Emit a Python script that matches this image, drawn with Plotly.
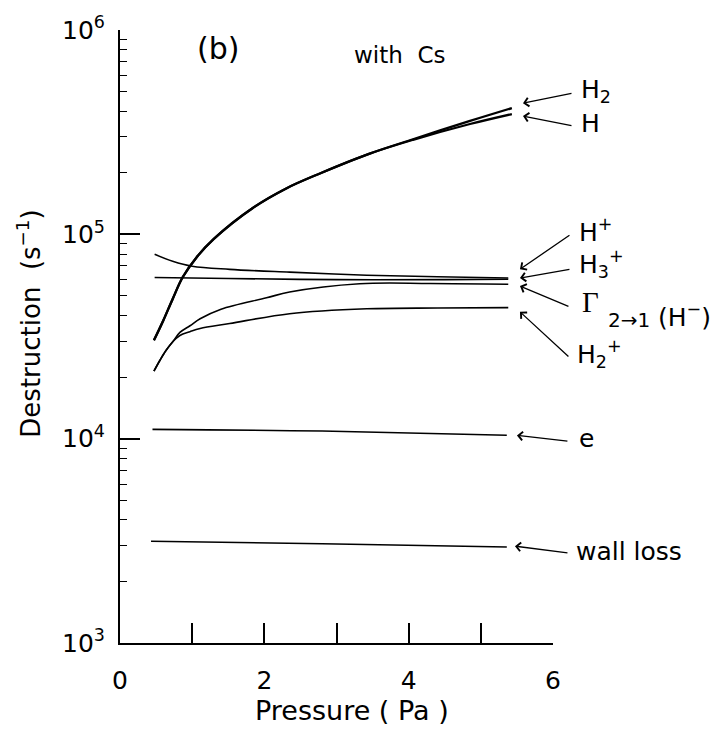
import plotly.graph_objects as go
import math

# ---------------- data ----------------
p_H2 = [0.47, 0.60, 0.73, 0.87, 1.06, 1.30, 1.84, 2.31, 2.77, 3.46, 4.06, 4.85, 5.43]
v_H2 = [30300, 37900, 48300, 61800, 77100, 95000, 134600, 168200, 198600, 248300, 292000, 359000, 415000]

p_H = [0.47, 0.60, 0.73, 0.87, 1.06, 1.30, 1.84, 2.31, 2.77, 3.46, 4.06, 4.85, 5.43]
v_H = [30300, 37900, 48300, 61800, 77100, 95000, 134600, 168200, 198600, 248300, 290000, 346700, 388000]

p_Hp = [0.48, 0.73, 1.00, 1.52, 2.35, 3.42, 4.40, 5.38]
v_Hp = [79800, 73800, 69800, 67400, 65300, 63100, 62000, 61100]

p_H3p = [0.48, 1.50, 3.00, 4.50, 5.38]
v_H3p = [61500, 60800, 60000, 60000, 60300]

p_Gam = [0.47, 0.554, 0.637, 0.734, 0.83, 0.97, 1.11, 1.40, 2.03, 2.35, 3.32, 4.30, 5.38]
v_Gam = [21400, 24200, 27000, 29900, 33100, 35700, 38600, 43000, 48900, 52200, 57300, 57500, 57000]

p_H2p = [0.47, 0.554, 0.637, 0.734, 0.83, 0.97, 1.11, 1.52, 2.35, 3.42, 4.40, 5.38]
v_H2p = [21400, 24200, 27000, 29900, 32000, 33400, 34600, 36600, 40900, 43200, 43600, 43800]

p_e = [0.45, 2.80, 5.36]
v_e = [11100, 10900, 10400]

p_wall = [0.43, 2.80, 5.36]
v_wall = [3150, 3060, 2950]

x_ticks = [0, 1, 2, 3, 4, 5, 6]
x_ticktext = ["0", "", "2", "", "4", "", "6"]
y_ticks = [1e3, 1e4, 1e5, 1e6]
y_ticktext = ["10<sup>3</sup>", "10<sup>4</sup>", "10<sup>5</sup>", "10<sup>6</sup>"]
y_minor = [m * 10 ** k for k in (3, 4, 5) for m in range(2, 10)]

FONT = "DejaVu Sans"
SERIF = "Liberation Serif"

# ---------------- figure ----------------
W, H = 720, 740
L, R, T, B = 120, 167, 23, 97
PW, PH = W - L - R, H - T - B


def px(xpix):
    return (xpix - L) / PW


def py(ypix):
    return (H - B - ypix) / PH


fig = go.Figure()
series = [
    (p_H2, v_H2, 2.3), (p_H, v_H, 2.3), (p_Hp, v_Hp, 1.6), (p_H3p, v_H3p, 1.6),
    (p_Gam, v_Gam, 1.6), (p_H2p, v_H2p, 1.6), (p_e, v_e, 1.6), (p_wall, v_wall, 1.6),
]
for xs, ys, w in series:
    fig.add_trace(go.Scatter(x=xs, y=ys, mode="lines",
                             line=dict(color="black", width=w, shape="spline", smoothing=1.0),
                             showlegend=False, hoverinfo="skip"))

annotations = []

# arrows: head (data x, data value) + tail offset in pixels
arrows = [
    (5.584, 10 ** 5.642, 50, -10),
    (5.584, 10 ** 5.579, 50, 10),
    (5.542, 10 ** 4.829, 51, -35),
    (5.542, 10 ** 4.786, 51, -9),
    (5.542, 10 ** 4.747, 50, 21),
    (5.542, 10 ** 4.621, 50, 46),
    (5.500, 10 ** 4.016, 52, 6),
    (5.473, 10 ** 3.474, 54, 7),
]
for hx, hv, ax, ay in arrows:
    annotations.append(dict(x=hx, y=math.log10(hv), xref="x", yref="y", text="",
                            showarrow=True, ax=ax, ay=ay, arrowhead=4, arrowsize=1.3,
                            arrowwidth=1.3, arrowcolor="black", standoff=0, startstandoff=0))

# labels (pixel positions of left edge, vertical centre)
labels = [
    ("H<sub>2</sub>", 580, 85, 25, FONT),
    ("H", 580, 118, 25, FONT),
    ("H<sup>+</sup>", 578, 226, 25, FONT),
    ("H<sub>3</sub><sup>+</sup>", 578, 260, 25, FONT),
    ("H<sub>2</sub><sup>+</sup>", 576, 351, 25, FONT),
    ("e", 578, 436, 25, FONT),
    ("wall loss", 575, 550, 25, FONT),
    ("Γ", 581, 298, 29, SERIF),
    ("2→1", 607, 316, 20, FONT),
    ("(H<sup>−</sup>)", 657, 312, 25, FONT),
    ("(b)", 196, 42, 30, FONT),
    ("with\u00a0\u00a0Cs", 353, 48, 23, FONT),
]
for txt, xl, yc, fs, fam in labels:
    annotations.append(dict(x=px(xl), y=py(yc), xref="paper", yref="paper", text=txt,
                            showarrow=False, xanchor="left", yanchor="middle", borderpad=0,
                            font=dict(size=fs, family=fam, color="black")))

# axis titles
annotations.append(dict(x=px(352), y=py(711), xref="paper", yref="paper",
                        text="Pressure ( Pa )", showarrow=False, xanchor="center",
                        yanchor="middle", font=dict(size=27, family=FONT, color="black")))
annotations.append(dict(x=px(29), y=py(320), xref="paper", yref="paper",
                        text="Destruction  (s<sup>−1</sup>)", showarrow=False, textangle=-90,
                        xanchor="center", yanchor="middle",
                        font=dict(size=26, family=FONT, color="black")))

fig.update_layout(
    width=W, height=H,
    margin=dict(l=L, r=R, t=T, b=B, pad=0),
    paper_bgcolor="white", plot_bgcolor="white",
    annotations=annotations,
    font=dict(family=FONT, color="black"),
    xaxis=dict(range=[0, 6], showline=True, linecolor="black", linewidth=2,
               ticks="inside", ticklen=20, tickwidth=1.6, tickcolor="black",
               tickvals=x_ticks, ticktext=x_ticktext, tickfont=dict(size=25, family=FONT),
               ticklabelstandoff=14, showgrid=False, zeroline=False),
    yaxis=dict(type="log", range=[3, 6], showline=True, linecolor="black", linewidth=2,
               ticks="inside", ticklen=20, tickwidth=1.6, tickcolor="black",
               tickvals=y_ticks, ticktext=y_ticktext, tickfont=dict(size=25, family=FONT),
               ticklabelstandoff=8, showgrid=False, zeroline=False,
               minor=dict(ticks="inside", ticklen=7, tickwidth=1.4, tickcolor="black",
                          tickvals=y_minor, showgrid=False)),
)

fig.write_html("out.html")
